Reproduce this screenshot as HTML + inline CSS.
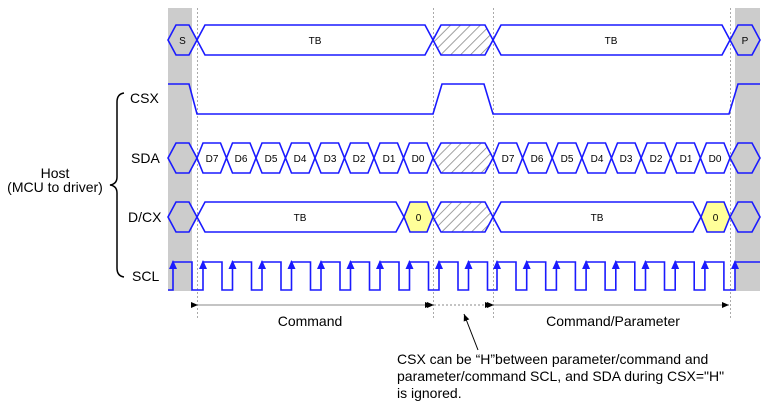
<!DOCTYPE html>
<html><head><meta charset="utf-8"><style>
html,body{margin:0;padding:0;background:#fff;}
svg{display:block;font-family:"Liberation Sans",Arial,sans-serif;}
</style></head><body>
<svg width="764" height="401" viewBox="0 0 764 401" xmlns="http://www.w3.org/2000/svg">
<defs>
<pattern id="h" width="7" height="7" patternUnits="userSpaceOnUse" patternTransform="rotate(45)">
<rect width="7" height="7" fill="#fff"/><line x1="0" y1="0" x2="0" y2="7" stroke="#888" stroke-width="1.6"/>
</pattern>
<marker id="ar" markerWidth="8" markerHeight="8" refX="7" refY="4" orient="auto" markerUnits="userSpaceOnUse"><path d="M0,1 L7,4 L0,7z" fill="#000"/></marker>
</defs>
<rect x="168" y="8" width="24" height="283" fill="#cccccc"/>
<rect x="735" y="8" width="25" height="283" fill="#cccccc"/>
<g stroke="#aaa" stroke-width="1" stroke-dasharray="2,2">
<line x1="197.5" y1="8" x2="197.5" y2="320"/>
<line x1="433.5" y1="8" x2="433.5" y2="320"/>
<line x1="493.5" y1="8" x2="493.5" y2="320"/>
<line x1="730.5" y1="8" x2="730.5" y2="320"/>
</g>
<g fill="#fff" stroke="#1a1aff" stroke-width="1.6">
<!-- row 1 -->
<polygon points="168,40 176,25 189,25 197,40 189,55 176,55" fill="#cccccc"/>
<polygon points="197,40 205,25 425,25 433,40 425,55 205,55"/>
<polygon points="433,40 441,25 485,25 493,40 485,55 441,55" fill="url(#h)"/>
<polygon points="493,40 501,25 722,25 730,40 722,55 501,55"/>
<polygon points="730,40 738,25 752,25 760,40 752,55 738,55" fill="#cccccc"/>
<!-- SDA -->
<polygon points="168,158 176,143 189,143 197,158 189,173 176,173" fill="#cccccc"/>
<polygon points="197,158 203,143 220.5,143 226.5,158 220.5,173 203,173"/>
<polygon points="226.5,158 232.5,143 250,143 256,158 250,173 232.5,173"/>
<polygon points="256,158 262,143 279.5,143 285.5,158 279.5,173 262,173"/>
<polygon points="285.5,158 291.5,143 309,143 315,158 309,173 291.5,173"/>
<polygon points="315,158 321,143 338.5,143 344.5,158 338.5,173 321,173"/>
<polygon points="344.5,158 350.5,143 368,143 374,158 368,173 350.5,173"/>
<polygon points="374,158 380,143 397.5,143 403.5,158 397.5,173 380,173"/>
<polygon points="403.5,158 409.5,143 427,143 433,158 427,173 409.5,173"/>
<polygon points="433,158 441,143 485,143 493,158 485,173 441,173" fill="url(#h)"/>
<polygon points="493,158 499,143 516.6,143 522.6,158 516.6,173 499,173"/>
<polygon points="522.6,158 528.6,143 546.2,143 552.2,158 546.2,173 528.6,173"/>
<polygon points="552.2,158 558.2,143 575.9,143 581.9,158 575.9,173 558.2,173"/>
<polygon points="581.9,158 587.9,143 605.5,143 611.5,158 605.5,173 587.9,173"/>
<polygon points="611.5,158 617.5,143 635.1,143 641.1,158 635.1,173 617.5,173"/>
<polygon points="641.1,158 647.1,143 664.7,143 670.7,158 664.7,173 647.1,173"/>
<polygon points="670.7,158 676.7,143 694.4,143 700.4,158 694.4,173 676.7,173"/>
<polygon points="700.4,158 706.4,143 724,143 730,158 724,173 706.4,173"/>
<polygon points="730,158 738,143 752,143 760,158 752,173 738,173" fill="#cccccc"/>
<!-- D/CX -->
<polygon points="168,217 176,202 189,202 197,217 189,232 176,232" fill="#cccccc"/>
<polygon points="197,217 205,202 396,202 404,217 396,232 205,232"/>
<polygon points="404,217 410,202 427,202 433,217 427,232 410,232" fill="#ffff99"/>
<polygon points="433,217 441,202 485,202 493,217 485,232 441,232" fill="url(#h)"/>
<polygon points="493,217 501,202 693,202 701,217 693,232 501,232"/>
<polygon points="701,217 707,202 724,202 730,217 724,232 707,232" fill="#ffff99"/>
<polygon points="730,217 738,202 752,202 760,217 752,232 738,232" fill="#cccccc"/>
</g>
<g fill="none" stroke="#1a1aff" stroke-width="1.6">
<polyline points="168,84 189,84 197,114 433,114 442,84 484,84 493,114 729,114 738,84 760,84"/>
<polyline points="168,290 173,290 173,262 192,262 192,290 203,290 203,262 222,262 222,290 232.5,290 232.5,262 251.5,262 251.5,290 262,290 262,262 281,262 281,290 291.5,290 291.5,262 310.5,262 310.5,290 321,290 321,262 340,262 340,290 350.5,290 350.5,262 369.5,262 369.5,290 380,290 380,262 399,262 399,290 409.5,290 409.5,262 428.5,262 428.5,290 439,290 439,262 458,262 458,290 468.5,290 468.5,262 487.5,262 487.5,290 497,290 497,262 516,262 516,290 526.7,290 526.7,262 545.7,262 545.7,290 556.4,290 556.4,262 575.4,262 575.4,290 586.1,290 586.1,262 605.1,262 605.1,290 615.8,290 615.8,262 634.8,262 634.8,290 645.5,290 645.5,262 664.5,262 664.5,290 675.2,290 675.2,262 694.2,262 694.2,290 704.9,290 704.9,262 723.9,262 723.9,290 735,290 735,262 760,262"/>
</g>
<g fill="#1a1aff">
<path d="M173,260 l-4,9 h8z"/><path d="M203,260 l-4,9 h8z"/><path d="M232.5,260 l-4,9 h8z"/><path d="M262,260 l-4,9 h8z"/><path d="M291.5,260 l-4,9 h8z"/><path d="M321,260 l-4,9 h8z"/><path d="M350.5,260 l-4,9 h8z"/><path d="M380,260 l-4,9 h8z"/><path d="M409.5,260 l-4,9 h8z"/><path d="M439,260 l-4,9 h8z"/><path d="M468.5,260 l-4,9 h8z"/><path d="M497,260 l-4,9 h8z"/><path d="M526.7,260 l-4,9 h8z"/><path d="M556.4,260 l-4,9 h8z"/><path d="M586.1,260 l-4,9 h8z"/><path d="M615.8,260 l-4,9 h8z"/><path d="M645.5,260 l-4,9 h8z"/><path d="M675.2,260 l-4,9 h8z"/><path d="M704.9,260 l-4,9 h8z"/><path d="M735,260 l-4,9 h8z"/>
</g>
<g font-size="10" fill="#000" text-anchor="middle">
<text x="182.5" y="44">S</text><text x="315" y="44">TB</text><text x="611" y="44">TB</text><text x="745" y="44">P</text>
<text x="212" y="162">D7</text><text x="241" y="162">D6</text><text x="271" y="162">D5</text><text x="300" y="162">D4</text><text x="330" y="162">D3</text><text x="359" y="162">D2</text><text x="389" y="162">D1</text><text x="418" y="162">D0</text>
<text x="508" y="162">D7</text><text x="537" y="162">D6</text><text x="567" y="162">D5</text><text x="597" y="162">D4</text><text x="626" y="162">D3</text><text x="656" y="162">D2</text><text x="686" y="162">D1</text><text x="715" y="162">D0</text>
<text x="300" y="221">TB</text><text x="418.5" y="221">0</text><text x="597" y="221">TB</text><text x="715.5" y="221">0</text>
</g>
<g font-size="14" fill="#000">
<text x="130" y="103">CSX</text><text x="131" y="163">SDA</text><text x="128" y="222">D/CX</text><text x="132" y="281">SCL</text>
<text x="55" y="178" text-anchor="middle">Host</text>
<text x="55" y="192" text-anchor="middle">(MCU to driver)</text>
<text x="310" y="326" text-anchor="middle">Command</text>
<text x="613" y="326" text-anchor="middle">Command/Parameter</text>
<text x="397" y="364">CSX can be “H”between parameter/command and</text>
<text x="397" y="381">parameter/command SCL, and SDA during CSX="H"</text>
<text x="397" y="398">is ignored.</text>
</g>
<path d="M124,93 Q117,94 117,102 L117,177 Q117,184 110,185 Q117,186 117,193 L117,268 Q117,276 124,277" fill="none" stroke="#000" stroke-width="1.5"/>
<g stroke="#888" stroke-width="1">
<line x1="198" y1="305" x2="432" y2="305" marker-start="url(#ar)" marker-end="url(#ar)"/>
<line x1="434" y1="305" x2="492" y2="305" stroke-dasharray="2,2" marker-start="url(#ar)" marker-end="url(#ar)"/>
<line x1="494" y1="305" x2="729" y2="305" marker-start="url(#ar)" marker-end="url(#ar)"/>
</g>
<line x1="478" y1="350" x2="464" y2="314" stroke="#000" stroke-width="1" marker-end="url(#ar)"/>
</svg>
</body></html>
